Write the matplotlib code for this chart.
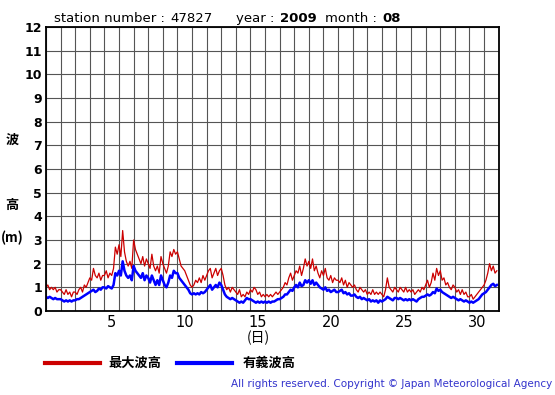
import numpy as np
import matplotlib
matplotlib.use("Agg")
from matplotlib import pyplot as plt
from matplotlib.lines import Line2D

station = "47827"
year = "2009"
month = "08"
samples_per_day = 8  # every 3 hours

# max wave height (m), one row per day
max_wave = [
    1.0, 1.1, 0.9, 1.0, 0.9, 1.0, 0.8, 0.9,
    0.9, 0.8, 0.7, 0.9, 0.7, 0.8, 0.6, 0.8,
    0.8, 0.7, 0.9, 1.0, 0.8, 1.1, 1.0, 1.2,
    1.4, 1.3, 1.8, 1.5, 1.4, 1.6, 1.3, 1.5,
    1.5, 1.7, 1.4, 1.6, 1.5, 1.8, 2.7, 2.4,
    2.8, 2.3, 3.4, 2.5, 2.1, 1.9, 2.1, 1.8,
    3.0, 2.6, 2.4, 2.2, 2.0, 2.3, 1.9, 2.2,
    2.0, 1.8, 2.4, 1.9, 1.7, 1.9, 1.6, 2.3,
    2.0, 1.8, 1.6, 1.9, 2.5, 2.3, 2.6, 2.4,
    2.5, 2.2, 1.9, 1.8, 1.7, 1.5, 1.3, 1.1,
    1.0, 1.1, 1.3, 1.2, 1.4, 1.2, 1.5, 1.3,
    1.5, 1.7, 1.8, 1.4, 1.6, 1.8, 1.5, 1.7,
    1.8, 1.5, 1.1, 0.9, 1.0, 0.8, 1.0, 0.9,
    0.8, 0.7, 0.9, 0.6, 0.7, 0.6, 0.8, 0.7,
    0.9, 0.8, 1.0, 0.9, 0.7, 0.8, 0.6, 0.7,
    0.6, 0.7, 0.6, 0.7, 0.6, 0.7, 0.8, 0.7,
    0.8, 0.9, 1.0, 1.2, 1.1, 1.4, 1.6, 1.3,
    1.5, 1.7, 1.6, 1.9, 1.5, 1.8, 2.2, 1.9,
    2.1, 1.8, 2.2, 1.7, 1.9, 1.6, 1.4, 1.7,
    1.5, 1.8, 1.4, 1.3, 1.5, 1.2, 1.4, 1.3,
    1.3, 1.2, 1.4, 1.1, 1.3, 1.0, 1.2, 1.1,
    1.0, 1.1, 0.9, 0.8, 1.0, 0.9, 0.8, 0.9,
    0.7, 0.8, 0.7, 0.9, 0.7, 0.8, 0.7, 0.8,
    0.7, 0.6, 0.9, 1.4, 1.0, 0.9, 0.8, 1.0,
    0.9, 0.8, 1.0, 0.9, 0.8, 1.0, 0.8, 0.9,
    0.8, 0.9, 0.7, 0.8, 0.9, 0.8, 1.0, 0.9,
    1.1, 1.3, 1.0, 1.2, 1.6, 1.3, 1.8, 1.5,
    1.7, 1.3, 1.4, 1.1, 1.2, 1.0, 0.9, 1.1,
    1.0, 0.8, 0.9, 0.7, 0.9, 0.7, 0.8, 0.6,
    0.6, 0.7, 0.5, 0.6, 0.7, 0.8, 0.9, 1.0,
    1.1, 1.3, 1.6, 2.0, 1.7, 1.9, 1.6, 1.7,
]

# significant wave height (m)
sig_wave = [
    0.60, 0.55, 0.60, 0.55, 0.50, 0.55, 0.50, 0.50,
    0.50, 0.45, 0.40, 0.45, 0.40, 0.45, 0.40, 0.45,
    0.45, 0.50, 0.50, 0.55, 0.60, 0.65, 0.70, 0.75,
    0.80, 0.85, 0.90, 0.80, 0.85, 0.95, 0.90, 1.00,
    1.00, 0.95, 1.05, 1.00, 0.95, 1.10, 1.60, 1.50,
    1.70, 1.50, 2.10, 1.70, 1.50, 1.40, 1.50, 1.30,
    1.90, 1.70, 1.60, 1.50, 1.40, 1.60, 1.30, 1.50,
    1.40, 1.20, 1.50, 1.30, 1.10, 1.30, 1.10, 1.50,
    1.30, 1.10, 1.00, 1.20, 1.50, 1.40, 1.70, 1.60,
    1.60, 1.40, 1.30, 1.20, 1.10, 1.00, 0.90, 0.75,
    0.70, 0.75, 0.70, 0.75, 0.70, 0.80, 0.75, 0.80,
    0.90, 1.00, 1.10, 0.90, 1.00, 1.10, 1.00, 1.20,
    1.10, 0.90, 0.70, 0.60, 0.55, 0.50, 0.55, 0.50,
    0.45, 0.40, 0.35, 0.40, 0.35, 0.45, 0.55, 0.50,
    0.50, 0.45, 0.40, 0.35, 0.40, 0.35, 0.40, 0.35,
    0.40, 0.35, 0.40, 0.35, 0.40, 0.40, 0.45, 0.50,
    0.50, 0.55, 0.60, 0.70, 0.70, 0.80, 0.90, 0.85,
    1.00, 1.10, 1.00, 1.20, 1.05, 1.10, 1.30, 1.20,
    1.30, 1.15, 1.30, 1.10, 1.20, 1.10, 1.00, 0.95,
    0.90, 1.00, 0.85, 0.90, 0.80, 0.85, 0.90, 0.80,
    0.80, 0.85, 0.90, 0.75, 0.80, 0.70, 0.75, 0.65,
    0.65, 0.70, 0.60, 0.55, 0.60, 0.50, 0.55, 0.50,
    0.45, 0.50, 0.40, 0.45, 0.40, 0.45, 0.35, 0.45,
    0.40, 0.45, 0.50, 0.60, 0.55, 0.50, 0.45, 0.55,
    0.55, 0.50, 0.55, 0.50, 0.45, 0.50, 0.45, 0.50,
    0.45, 0.50, 0.45, 0.40, 0.50, 0.55, 0.60, 0.60,
    0.65, 0.70, 0.65, 0.70, 0.80, 0.75, 0.95, 0.85,
    0.90, 0.80, 0.75, 0.70, 0.65, 0.60, 0.55, 0.60,
    0.55, 0.50, 0.45, 0.50, 0.45, 0.40, 0.45, 0.40,
    0.35, 0.40, 0.35, 0.40, 0.45, 0.50, 0.60, 0.70,
    0.75, 0.80, 0.90, 1.00, 1.10, 1.15, 1.05, 1.10,
]

day_labels = [5, 10, 15, 20, 25, 30]
n_days = 31

cjk = ['Noto Sans CJK JP', 'DejaVu Sans']
red = '#cc0000'
blue = '#0000ff'

t = 1 + np.arange(len(max_wave)) / samples_per_day

fig = plt.figure(figsize=(5.55, 3.95), dpi=100)
W, H = 555, 395
ax = fig.add_axes([46 / W, 1 - 311 / H, (498.7 - 46) / W, (311 - 27) / H])

ax.plot(t, max_wave, color=red, lw=0.9)
ax.plot(t, sig_wave, color=blue, lw=1.8)

ax.set_xlim(1, n_days + 1)
ax.set_ylim(0, 12)
ax.set_xticks(np.arange(1, n_days + 2))
ax.set_xticklabels([])
ax.set_xticks([d + 0.5 for d in day_labels], minor=True)
ax.set_xticklabels([str(d) for d in day_labels], minor=True, fontsize=10.5)
ax.set_yticks(np.arange(0, 13))
ax.set_yticklabels([str(v) for v in range(13)], fontsize=9, fontweight='bold')
ax.tick_params(which='both', length=0, pad=3)
ax.grid(True, which='major', color='#555555', lw=0.8)
ax.set_axisbelow(True)
for s in ax.spines.values():
    s.set_linewidth(1.3)
    s.set_color('black')

def px(x, y):
    return x / W, 1 - y / H

# header: label text followed by its value
for label, value, x0, weight in [("station number :", station, 54, 'normal'),
                                 ("year :", year, 236, 'bold'),
                                 ("month :", month, 325, 'bold')]:
    lab = fig.text(*px(x0, 22), label, fontsize=9.5, va='baseline', ha='left')
    ax.annotate(value, xy=(1, 0), xycoords=lab, xytext=(4, 0),
                textcoords='offset points', fontsize=9.5, va='bottom', ha='left',
                fontweight=weight, annotation_clip=False)

# y label
for s, y in [("波", 140), ("高", 205), ("(m)", 238)]:
    fig.text(*px(12, y), s, family=cjk, fontsize=9.5, fontweight='bold',
             ha='center', va='center')

# x label
fig.text(*px(258, 338), "(日)", family=cjk, fontsize=10, ha='center', va='center')

# legend
fig.add_artist(Line2D([45 / W, 100 / W], [1 - 363 / H] * 2, color=red, lw=3))
fig.text(*px(108, 363), "最大波高", family=cjk, fontsize=9.5, fontweight='bold',
         ha='left', va='center')
fig.add_artist(Line2D([177 / W, 232 / W], [1 - 363 / H] * 2, color=blue, lw=3))
fig.text(*px(243, 363), "有義波高", family=cjk, fontsize=9.5, fontweight='bold',
         ha='left', va='center')

fig.text(*px(552, 384), "All rights reserved. Copyright \u00a9 Japan Meteorological Agency",
         fontsize=7.5, color='#3333cc', ha='right', va='center')

fig.savefig("out.png", dpi=100)
